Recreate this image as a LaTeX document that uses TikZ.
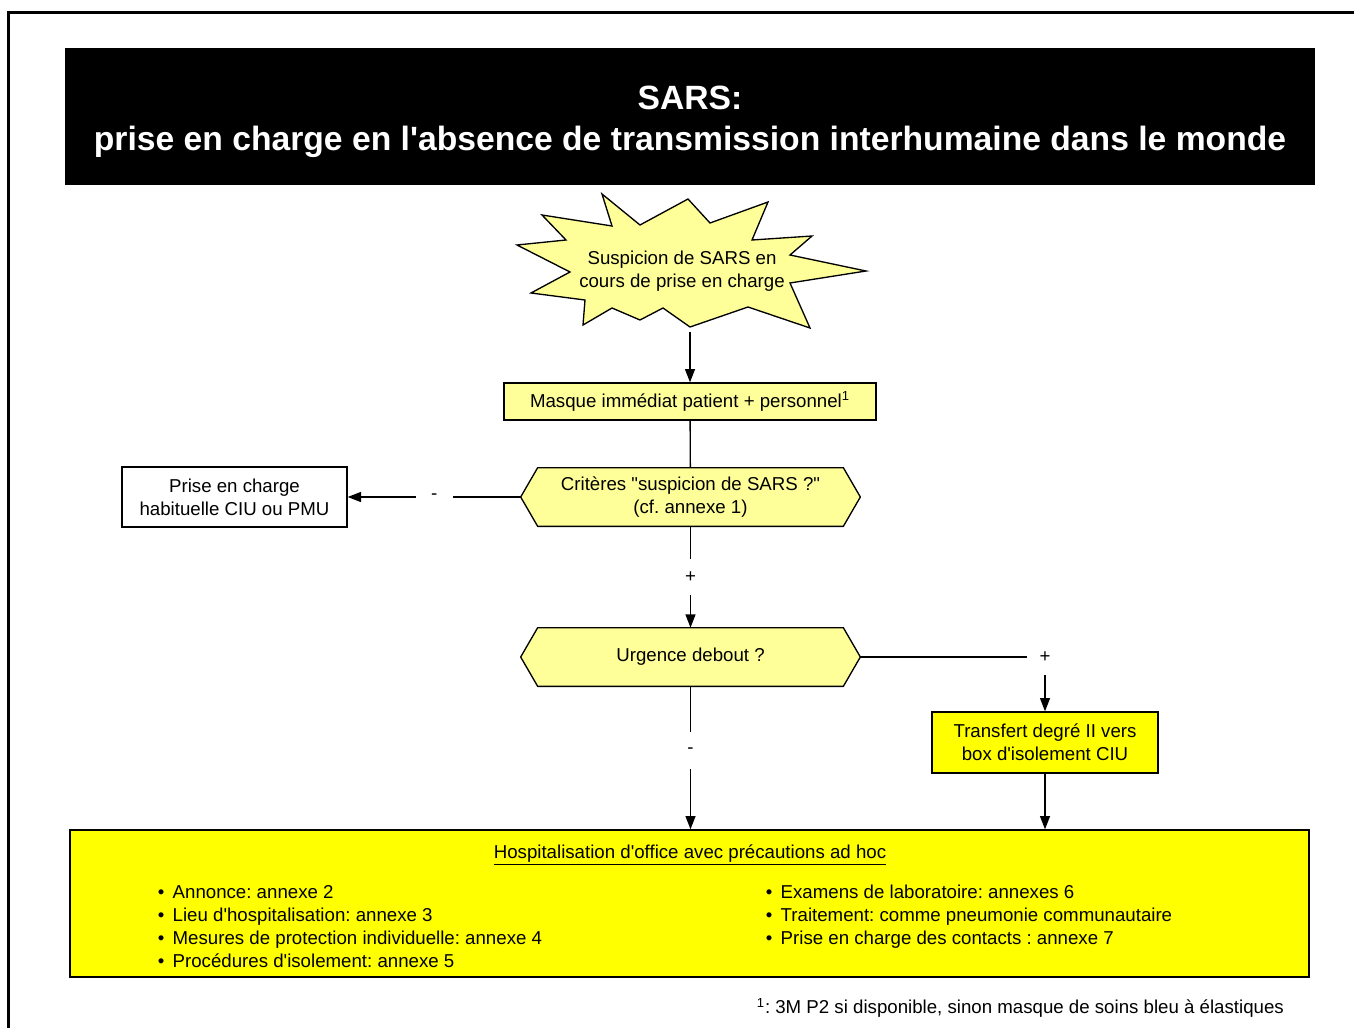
\documentclass[tikz,border=0pt]{standalone}
\usepackage{fontspec}
\setmainfont{Liberation Sans}[Ligatures=TeXOff]
\usetikzlibrary{arrows.meta,backgrounds}
\definecolor{sarspale}{RGB}{255,255,153}
\definecolor{sarsyel}{RGB}{255,255,0}
\newcommand{\bodyfont}{\fontsize{11.2}{13.8}\selectfont\frenchspacing}
\newcommand{\headfont}{\fontsize{20.2}{24.6}\selectfont\bfseries}
\newcommand{\itm}{•\hspace{5pt}}
\newcommand{\hexframe}[1]{%
  \draw[hexline] (#1.west) -- ([xshift=10.2pt]#1.north west) -- ([xshift=-10.2pt]#1.north east)
    -- (#1.east) -- ([xshift=-10.2pt]#1.south east) -- ([xshift=10.2pt]#1.south west) -- cycle;}
\tikzset{
  box/.style={draw=black, line width=0.8pt, fill=sarspale, align=center,
              font=\bodyfont, inner sep=2pt},
  plain/.style={box, fill=white},
  alert/.style={box, fill=sarsyel},
  hexa/.style={font=\bodyfont, align=center, inner sep=2pt,
               minimum width=203.4pt, minimum height=34.8pt},
  hexline/.style={draw=black, line width=0.8pt, fill=sarspale, line join=round},
  head/.style={fill=black, text=white, font=\headfont, align=center,
               minimum width=750pt, minimum height=82.2pt},
  arr/.style={-{Triangle[length=8pt,width=6pt]}, line width=0.8pt},
  link/.style={line width=0.8pt},
  lab/.style={fill=white, font=\bodyfont, minimum size=22pt, inner sep=0pt},
  list/.style={font=\bodyfont, align=left, inner sep=0pt, anchor=north west}
}
\begin{document}
\begin{tikzpicture}[x=0.6pt, y=-0.6pt]
  \useasboundingbox (0,0) rectangle (1354,1028);
  \draw[line width=1.8pt] (8,1028) -- (8,13) -- (1354,13);

  \node[head] (title) at (690,116.5) {\rule{0pt}{21pt}SARS:\\prise en charge en l'absence de transmission interhumaine dans le monde};

  % starburst
  \draw[line width=0.8pt, fill=sarspale, line join=miter]
    (602,194) -- (640,225) -- (688,199) -- (710,223) -- (768,202) -- (752,240)
    -- (812,236) -- (790,255) -- (866,271) -- (790,283) -- (810,328) -- (748,307)
    -- (690,327) -- (663,308) -- (640,320) -- (612,308) -- (583,325) -- (585,300)
    -- (531,293) -- (570,272) -- (517,245) -- (566,240) -- (542,215) -- (612,226) -- cycle;
  \node[font=\bodyfont, align=center] (burst) at (682,271) {Suspicion de SARS en\\cours de prise en charge};
  \coordinate (burstbot) at (690,332);

  \node[box, minimum width=223.2pt, minimum height=22.2pt] (masque) at (690,401.5) {Masque immédiat patient + personnel\textsuperscript{1}};
  \node[hexa] (crit) at (690.5,497) {Critères "suspicion de SARS ?"\\(cf. annexe 1)};
  \node[plain, minimum width=135pt, minimum height=36pt] (prise) at (234.5,497) {Prise en charge\\habituelle CIU ou PMU};
  \node[hexa] (urg) at (690.5,657) {Urgence debout ?};
  \node[alert, minimum width=135.6pt, minimum height=36.6pt] (transfert) at (1045,742.5) {Transfert degré II vers\\box d'isolement CIU};
  \begin{scope}[on background layer]
    \hexframe{crit}
    \hexframe{urg}
  \end{scope}

  \node[alert, minimum width=743.4pt, minimum height=88.2pt] (hosp) at (689.5,903.5) {};
  \node[font=\bodyfont] (hosptitle) at (690,855) {\underline{Hospitalisation d'office avec précautions ad hoc}};
  \node[list] (leftlist) at (157.5,885) {\itm Annonce: annexe 2\\\itm Lieu d'hospitalisation: annexe 3\\\itm Mesures de protection individuelle: annexe 4\\\itm Procédures d'isolement: annexe 5};
  \node[list] (rightlist) at (765.5,885) {\itm Examens de laboratoire: annexes 6\\\itm Traitement: comme pneumonie communautaire\\\itm Prise en charge des contacts : annexe 7};

  \node[font=\bodyfont, anchor=west] (note) at (751,1008) {\textsuperscript{1}: 3M P2 si disponible, sinon masque de soins bleu à élastiques};

  \draw[arr] (burstbot) -- (masque);
  \draw[link] (masque) -- (crit);
  \draw[arr] (crit) -- node[lab] {-} (prise);
  \draw[arr] (crit) -- node[lab] {+} (urg);
  \draw[arr] (urg) -| node[lab, pos=0.5] {+} (transfert);
  \draw[arr] (urg) -- node[lab, pos=0.45] {-} (urg |- hosp.north);
  \draw[arr] (transfert) -- (transfert |- hosp.north);
\end{tikzpicture}
\end{document}
